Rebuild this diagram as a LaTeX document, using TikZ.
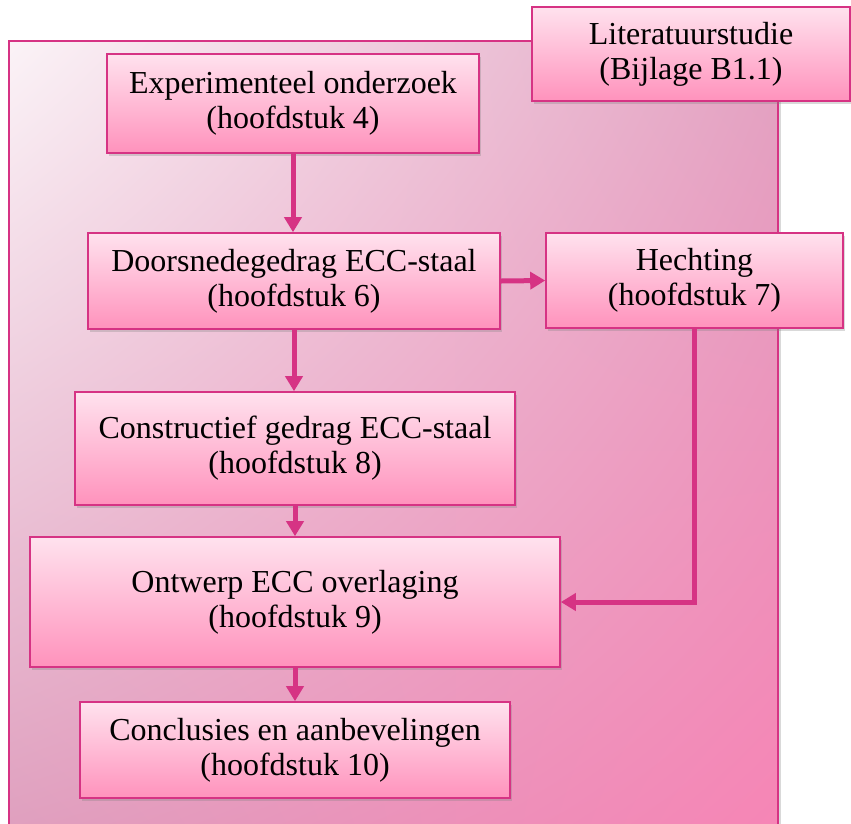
\documentclass[tikz,border=0pt]{standalone}
\usepackage{fontspec}
\setmainfont{Liberation Serif}
\usetikzlibrary{arrows.meta,shadows,shadings}
\definecolor{edge}{HTML}{D63384}
\definecolor{boxtop}{HTML}{FFE2EE}
\definecolor{boxbot}{HTML}{FF92BC}
\definecolor{bgUL}{HTML}{FBF3F7}
\definecolor{bgUR}{HTML}{E2A3C2}
\definecolor{bgLL}{HTML}{DE9CBC}
\definecolor{bgLR}{HTML}{F784B5}
\tikzset{
  stagebox/.style={draw=edge, line width=1.6pt, top color=boxtop, bottom color=boxbot,
    align=center, inner sep=0pt, font=\fontsize{32}{35}\selectfont,
    drop shadow={opacity=0.3, shadow xshift=2pt, shadow yshift=-3pt}},
  flow/.style={draw=edge, line width=5pt, -{Triangle[length=15pt,width=17pt]}}
}
\begin{document}
\begin{tikzpicture}[x=1pt,y=-1pt]
\useasboundingbox (0,0) rectangle (851,823);
\clip (0,0) rectangle (851,823);
% background panel
\fill[black, opacity=0.15] (12,45) rectangle (781,860);
\shade[upper left=bgUL, upper right=bgUR, lower left=bgLL, lower right=bgLR] (9,41) rectangle (778,860);
\draw[edge, line width=1.6pt] (9,41) rectangle (778,860);
% boxes
\node[stagebox, minimum width=318pt, minimum height=94pt] (lit) at (691,54) {Literatuurstudie\\(Bijlage B1.1)};
\node[stagebox, minimum width=372pt, minimum height=99pt] (exp) at (293,103.5) {Experimenteel onderzoek\\(hoofdstuk 4)};
\node[stagebox, minimum width=412pt, minimum height=96pt] (doors) at (294,281) {Doorsnedegedrag ECC-staal\\(hoofdstuk 6)};
\node[stagebox, minimum width=297pt, minimum height=95pt] (hecht) at (694.5,280.5) {Hechting\\(hoofdstuk 7)};
\node[stagebox, minimum width=440pt, minimum height=113pt] (constr) at (295,448.5) {Constructief gedrag ECC-staal\\(hoofdstuk 8)};
\node[stagebox, minimum width=530pt, minimum height=130pt] (ontw) at (295,602) {Ontwerp ECC overlaging\\(hoofdstuk 9)};
\node[stagebox, minimum width=430pt, minimum height=96pt] (concl) at (295,750) {Conclusies en aanbevelingen\\(hoofdstuk 10)};
% connectors
\draw[flow] (exp.south) -- (exp.south |- doors.north);
\draw[flow] (doors.east) -- (hecht.west);
\draw[flow] (doors.south) -- (doors.south |- constr.north);
\draw[flow] (constr.south) -- (constr.south |- ontw.north);
\draw[flow] (ontw.south) -- (ontw.south |- concl.north);
\draw[flow] (hecht.south) |- (ontw.east);
\end{tikzpicture}
\end{document}
